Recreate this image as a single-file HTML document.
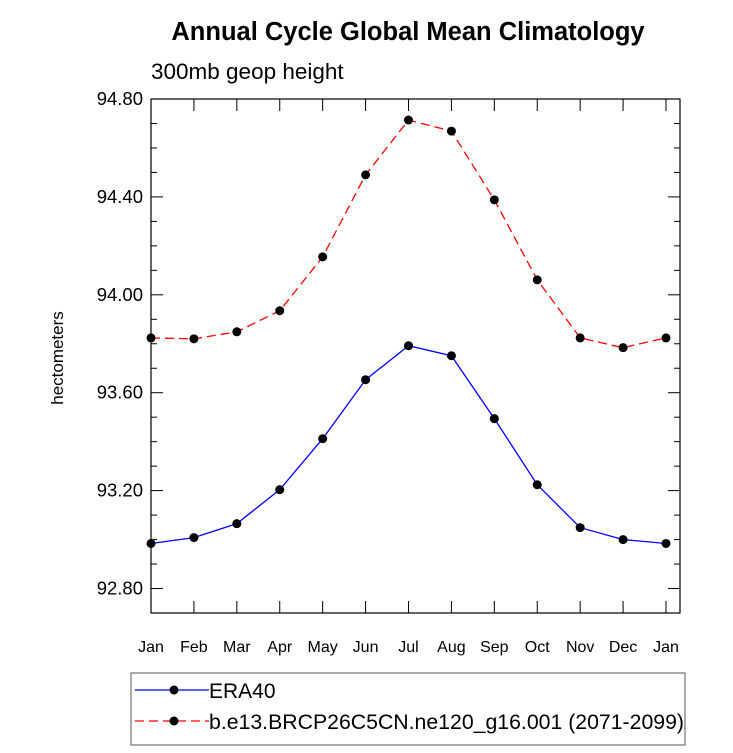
<!DOCTYPE html>
<html><head><meta charset="utf-8"><style>
body{margin:0;background:#fff}
text{font-family:"Liberation Sans",sans-serif}
</style></head><body>
<svg width="733" height="748" xmlns="http://www.w3.org/2000/svg">
<text x="408" y="40" text-anchor="middle" font-size="25.5" font-weight="bold">Annual Cycle Global Mean Climatology</text>
<text x="151" y="79" font-size="22.5">300mb geop height</text>
<text transform="translate(63,358) rotate(-90)" text-anchor="middle" font-size="17">hectometers</text>
<g id="axes"></g>
<g id="series"></g>
<rect x="131" y="673" width="554" height="72" fill="none" stroke="#555" stroke-width="1"/>
<line x1="135" y1="690" x2="209" y2="690" stroke="#00f" stroke-width="1.3"/>
<circle cx="174" cy="690" r="4.5" fill="#000"/>
<text x="209" y="698" font-size="21">ERA40</text>
<line x1="135" y1="721" x2="209" y2="721" stroke="#f00" stroke-width="1.3" stroke-dasharray="9,5"/>
<circle cx="174" cy="721" r="4.5" fill="#000"/>
<text x="209" y="729" font-size="21" textLength="475" lengthAdjust="spacingAndGlyphs">b.e13.BRCP26C5CN.ne120_g16.001 (2071-2099)</text>
</svg>
<script>
const months=["Jan","Feb","Mar","Apr","May","Jun","Jul","Aug","Sep","Oct","Nov","Dec","Jan"];
const era40=[92.984,93.008,93.065,93.204,93.412,93.653,93.792,93.751,93.494,93.224,93.049,93.0,92.984];
const model=[93.824,93.820,93.849,93.935,94.155,94.490,94.714,94.669,94.388,94.061,93.824,93.784,93.824];
const yTicks=[92.8,93.2,93.6,94.0,94.4,94.8];
const yTickLabels=["92.80","93.20","93.60","94.00","94.40","94.80"];
const L=151,R=680,T=99,B=613,YMIN=92.7,YMAX=94.8;
const sx=i=>L+i*(666-151)/12;
const sy=v=>B-(v-YMIN)/(YMAX-YMIN)*(B-T);
const NS="http://www.w3.org/2000/svg";
function mk(tag,attrs,parent){const e=document.createElementNS(NS,tag);for(const k in attrs)e.setAttribute(k,attrs[k]);parent.appendChild(e);return e;}
const ax=document.getElementById('axes');
let fr=mk('rect',{x:L,y:T,width:R-L,height:B-T,fill:'none',stroke:'#000','stroke-width':1.2},ax);


for(let v=92.7;v<=94.81;v+=0.1){const y=sy(v);const major=yTicks.some(t=>Math.abs(t-v)<1e-6);const len=major?12:6;
 mk('line',{x1:L,y1:y,x2:L+len,y2:y,stroke:'#000'},ax);mk('line',{x1:R,y1:y,x2:R-len,y2:y,stroke:'#000'},ax);}
yTicks.forEach((t,i)=>{const e=mk('text',{x:L-8,y:sy(t)+6,'text-anchor':'end','font-size':18.5},ax);e.textContent=yTickLabels[i];
 
 });
months.forEach((m,i)=>{const x=sx(i);mk('line',{x1:x,y1:B,x2:x,y2:B-12,stroke:'#000'},ax);mk('line',{x1:x,y1:T,x2:x,y2:T+12,stroke:'#000'},ax);
 const e=mk('text',{x:x,y:B+39,'text-anchor':'middle','font-size':16},ax);e.textContent=m;
 
 });
const sg=document.getElementById('series');
function draw(vals,color,dash,name){
 const p=mk('polyline',{points:vals.map((v,i)=>sx(i)+','+sy(v)).join(' '),fill:'none',stroke:color,'stroke-width':1.3,'stroke-dasharray':dash},sg);
 
 
 vals.forEach((v,i)=>{const c=mk('circle',{cx:sx(i),cy:sy(v),r:4.5,fill:'#000'},sg);
  
  });
}
draw(era40,'#00f','none','era40');
draw(model,'#f00','9,5','model');
</script>
</body></html>
